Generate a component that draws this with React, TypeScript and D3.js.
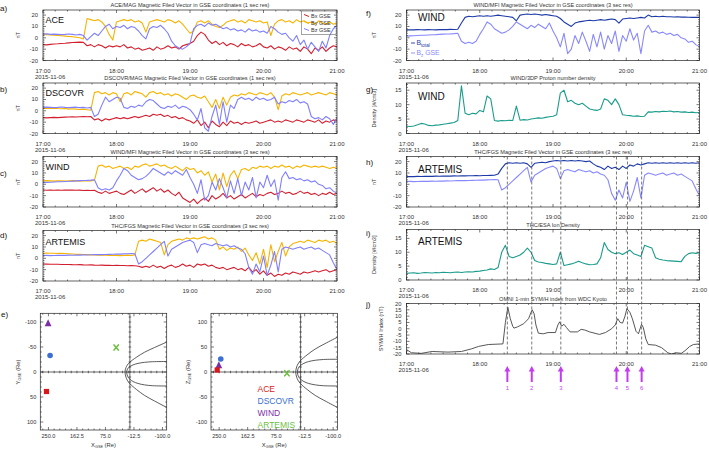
import React from "react";
import * as d3 from "d3";

// ---------- time grid (minutes after 17:00, one value every 3 minutes) ----------
const STEP_MIN = 3;
const SPAN_MIN = 240;
const HOURS = ["17:00", "18:00", "19:00", "20:00", "21:00"];
const DATE_LABEL = "2015-11-06";

// ---------- a) ACE ----------
const aceBx = [-6, -6.2, -5.8, -5.5, -5.3, -5, -4.8, -4.5, -4.2, -4,
  -3.8, -4, -7, -6, -8, -6, -7, -9, -7, -8,
  -7, -8, -6, -9, -8, -10, -9, -11, -10, -9,
  -11, -8, -10, -9, -7, -9, -8, -10, -7, -6,
  -5, -3, 2, 5, 3, -2, -5, -3, -6, -4,
  -7, -5, -6, -8, -5, -7, -6, -8, -7, -5,
  -8, -9, -7, -10, -8, -9, -11, -8, -10, -9,
  -12, -8, -10, -14, -9, -11, -8, -12, -9, -7,
  -8];
const aceBy = [3, 2.8, 2.5, 2.2, 2, 1.8, 1.5, 1.2, 1, 0.5,
  0, -1, 17, 16, 15, 16, 14, 10, 3, -2,
  14, 15, 16, 15, 16, 14, 15, 13, 5, 14,
  15, 16, 15, 14, 16, 15, 13, 15, 12, 8,
  4, 6, 14, 15, 13, 15, 12, 10, 9, 11,
  14, 15, 16, 14, 15, 13, 16, 15, 14, 15,
  13, 14, 2, 12, 15, 16, 14, 15, 13, 16,
  14, 15, 13, 14, 12, 15, 13, 12, 14, 12,
  13];
const aceBz = [3, 3.5, 3, 3.2, 3, 2.8, 3, 3.3, 3, 2.5,
  3, 2, -2, 1, 4, 2, 6, 10, 12, 8,
  10, 9, 11, 8, 10, 9, 6, 2, -1, 8,
  10, 9, 11, 8, 4, -3, -7, -9, -10, -8,
  -5, 8, 11, 12, 10, 13, 11, 12, 10, 8,
  9, 7, 8, 6, 7, 5, 8, 6, 7, 5,
  6, 4, 10, 8, 5, 3, 4, 0, -3, 2,
  -6, -2, -10, -4, -8, -12, -3, -9, 2, 8,
  11];

// ---------- b) DSCOVR ----------
const dscBx = [-6, -6.2, -6, -5.8, -6, -5.8, -5.6, -5.5, -5.3, -5.5,
  -5.2, -5, -5.3, -5, -8, -7, -9, -7, -8, -7,
  -6, -7, -6, -7, -6, -5, -6, -5, -4, -5,
  -3, -4, -3, -5, -4, -6, -5, -7, -6, -8,
  -9, -11, -8, -13, -10, -15, -9, -12, -14, -10,
  -13, -9, -11, -10, -12, -10, -11, -10, -9, -11,
  -10, -9, -8, -10, -9, -10, -8, -9, -10, -8,
  -9, -10, -8, -9, -10, -8, -11, -9, -10, -8,
  -9];
const dscBy = [2, 2.2, 2, 2.3, 2, 1.8, 2, 1.5, 1.8, 1.5,
  1.2, 1.5, 1, 0.5, 16, 17, 15, 16, 14, 16,
  15, 8, 15, 16, 14, 17, 16, 15, 12, 16,
  17, 15, 16, 14, 15, 13, 15, 14, 12, 10,
  13, 14, 12, 11, 13, 8, 3, 10, 2, 12,
  5, 12, 14, 13, 15, 14, 16, 15, 14, 16,
  15, 14, 16, 12, 1, 13, 15, 14, 16, 15,
  14, 15, 16, 14, 15, 16, 15, 14, 16, 15,
  14];
const dscBz = [3, 3.2, 3, 2.8, 3, 3.3, 3, 2.8, 3, 3.2,
  2.8, 3, 2.5, 3, -5, -3, 5, 12, 8, 10,
  12, 11, 3, 2, 4, 3, 5, 4, 8, 10,
  9, 6, 3, 2, 4, 3, 5, 2, 4, 3,
  1, -3, -8, 2, -15, -18, -5, 5, -12, 8,
  -10, 5, 2, 10, 12, 10, 11, 9, 12, 10,
  11, 9, 10, 12, 6, 8, 7, 9, 8, 10,
  7, 8, 6, -5, -7, -6, -8, -5, -7, -12,
  -6];

// ---------- c) / f) WIND ----------
const windBx = [-5, -5.2, -5, -5.3, -5, -5.2, -5, -5.1, -5, -5.3,
  -5.1, -5.4, -5.2, -5.5, -5.3, -7, -8, -6, -8, -7,
  -6, -8, -9, -7, -5, -8, -6, -4, -7, -5,
  -3, -6, -4, -7, -5, -8, -10, -7, -12, -14,
  -16, -13, -17, -14, -12, -15, -10, -13, -11, -8,
  -12, -10, -13, -11, -9, -12, -10, -8, -11, -9,
  -10, -8, -7, -9, -8, -6, -8, -7, -9, -8,
  -6, -8, -7, -9, -8, -10, -8, -9, -7, -9,
  -8];
const windBy = [3, 3.2, 3, 2.8, 3, 3.1, 2.9, 3, 3.2, 3,
  2.8, 3, 3.2, 3, 3.5, 16, 17, 15, 16, 14,
  15, 16, 14, 15, 13, 16, 15, 17, 18, 16,
  17, 18, 16, 17, 15, 14, 16, 14, 12, 15,
  13, 14, 10, 12, 8, 11, 2, 9, -5, 10,
  -2, 8, 12, 5, 13, 14, 12, 15, 14, 16,
  15, 16, 14, 16, 15, 17, 15, 16, 14, 16,
  15, 17, 16, 15, 16, 15, 16, 15, 14, 15,
  14];
const windBz = [1.5, 1.7, 1.8, 2, 2.2, 2.3, 2.5, 2.7, 2.8, 3,
  3.2, 3.4, 3.5, 3.7, 4, -3, -5, -4, -5, -3,
  3, 8, 14, 12, 8, 6, 4, 5, 7, 10,
  14, 12, 10, 8, 11, 9, 12, 10, 8, 13,
  6, 0, -8, 4, -14, -10, 2, -5, 5, -3,
  -12, 3, -8, 5, -10, 2, -5, 6, -12, 2,
  -3, 8, -2, 4, -14, 6, 11, 5, 6, 4,
  5, 3, 4, 2, 3, 0, -1, -4, -3, -6,
  -8];
const windBt = [7, 7.1, 7, 7.2, 7.1, 7, 7.2, 7.1, 7, 7.2,
  7.3, 7.2, 7.4, 7.3, 7.5, 13, 18, 19, 18.5, 19,
  19.5, 19, 19.5, 19, 19.5, 20, 19.5, 19, 18.5, 18,
  15, 20, 20.5, 21, 20.5, 21, 20.5, 20, 20.5, 20,
  19.5, 19, 17, 14, 12, 10, 13, 14, 14.5, 15,
  15.5, 15, 15.5, 16, 15.5, 16, 16.5, 16, 13, 16.5,
  17, 17.5, 17, 17.5, 18, 17.5, 20, 18.5, 19, 18.5,
  19, 18.5, 18.5, 18.3, 18.5, 18.2, 18.3, 18.1, 18, 18.1,
  18];
const windN = [2.5, 2.4, 2.6, 3, 3.5, 3.3, 2.8, 2.7, 2.9, 3,
  3.2, 3.4, 3.6, 3.8, 4.5, 16.5, 7, 6.5, 7, 6.8,
  8, 7.5, 13, 12, 4.5, 4.3, 4.5, 4.4, 4.6, 4.5,
  9.5, 4.6, 4.8, 4.7, 5, 5.2, 5.4, 5.3, 5.6, 5.8,
  6, 6.5, 14, 15, 11, 11.5, 10.5, 10, 10.5, 9.5,
  8.5, 8.2, 8, 8.5, 12, 11.5, 10, 12, 10, 6.5,
  6.3, 6.2, 6, 6.1, 5.9, 6, 7.5, 7.4, 7.6, 7.5,
  7.7, 7.6, 7.8, 7.5, 7.6, 7.4, 7.5, 7.3, 7.4, 7.2,
  7.3];

// ---------- d) / h) / i) ARTEMIS ----------
const artBx = [-5, -5.1, -5.2, -5.3, -5.2, -5.4, -5.5, -5.4, -5.6, -5.7,
  -5.6, -5.8, -5.9, -5.8, -6, -6.1, -6, -6.2, -6.1, -6.3,
  -6.2, -6.4, -6.3, -6.5, -6.4, -6.5, -7, -8, -7, -8,
  -6, -8, -7, -9, -7, -6, -8, -7, -5, -7,
  -6, -8, -5, -6, -5, -7, -6, -8, -9, -8,
  -10, -9, -8, -10, -9, -11, -8, -12, -10, -14,
  -11, -15, -13, -16, -14, -15, -13, -14, -12, -13,
  -14, -12, -13, -12, -11, -12, -11, -10, -12, -11,
  -10];
const artBy = [4.5, 4.6, 4.4, 4.5, 4.3, 4.4, 4.2, 4, 3.8, 3.6,
  3.5, 3.3, 3.2, 3, 2.9, 2.8, 2.7, 2.8, 2.6, 2.5,
  2.6, 2.4, 2.5, 2.8, 2.5, 3, 15, 16, 15, 17,
  16, 15, 14, 3, 12, 15, 16, 17, 16, 18,
  17, 18, 17, 18, 19, 17, 18, 16, 8, 10,
  7, 9, 8, 10, 6, 9, 3, -2, 5, -5,
  8, -8, 12, -3, 6, 14, 2, 10, 13, 14,
  15, 14, 16, 15, 14, 16, 15, 16, 14, 15,
  13];
const artBz = [2.5, 2.6, 2.4, 2.5, 2.6, 2.7, 2.6, 2.8, 2.7, 2.9,
  2.8, 3, 2.9, 3.1, 3.2, 3.3, 3.2, 3.4, 3.5, 3.6,
  3.8, 3.7, 3.9, 4, 4.2, 4, -5, -3, 0, 3,
  6, 9, 12, 15, 2, 8, 10, 12, 14, 15,
  16, 14, 5, 12, 13, 12, 11, 13, 12, 11,
  12, 10, 11, 9, 8, 4, -8, -14, -5, -12,
  2, -15, -6, 6, -12, 8, 10, 9, 8, 9,
  10, 8, 9, 10, 8, 9, 7, 5, 3, -4,
  -10];
const artBt = [6.8, 6.9, 6.8, 7, 6.9, 7, 7.1, 7, 7.2, 7.1,
  7.2, 7.3, 7.2, 7.4, 7.3, 7.5, 7.4, 7.6, 7.5, 7.7,
  7.6, 7.8, 7.7, 7.9, 8, 9, 14, 18, 19, 18.5,
  19, 18.5, 19, 18, 15, 18.5, 19, 19.5, 19, 20,
  20.5, 21, 20.5, 21, 20.5, 21, 20.5, 21, 20.5, 20,
  20.5, 18, 16, 15, 13, 16, 14, 15, 13, 16,
  14, 17, 16, 18, 17, 18, 19, 18.5, 19, 18.5,
  19, 18.5, 19, 18.5, 19, 18.5, 19, 18.5, 19, 18.5,
  19];
const artN = [2.4, 2.5, 2.6, 2.4, 2.5, 2.7, 2.6, 2.5, 2.7, 2.6,
  2.8, 2.7, 2.6, 2.8, 2.9, 2.7, 2.9, 3, 2.9, 3.1,
  3.2, 3.4, 3.6, 4, 3.8, 4.5, 10, 12.5, 8.5, 8,
  8.5, 9, 10, 11.5, 10, 7, 6.5, 6.3, 6, 5.8,
  5.6, 5.8, 10, 5.2, 5.5, 5.8, 6.2, 6.8, 6.2, 5.8,
  5.5, 5.6, 5.8, 8, 13.5, 11, 10, 9.5, 9.8, 9.2,
  10, 10.8, 9.5, 9, 8.5, 12.5, 12, 11.5, 8, 7.5,
  7.2, 7, 6.9, 6.8, 6.7, 6.6, 8.5, 9.5, 9.8, 9.6,
  9.8];

// ---------- j) SYM/H (minute, nT) ----------
const symhT = [0, 4, 12, 21, 34, 45, 53, 59, 67, 79, 81, 83, 85, 87, 88, 91, 96, 100, 102, 103,
  104.5, 106, 108, 112, 116, 122, 124, 125.5, 127, 129, 131, 134, 140, 143, 146, 150, 158, 163, 168, 171,
  173, 175, 177, 179, 180.5, 183, 185, 188, 190, 192.5, 194, 196, 198, 204, 209, 214, 217, 221, 225, 228,
  232, 235, 240];
const symhV = [-16.5, -19, -19.5, -18, -18.5, -18, -16, -14, -12.5, -12, 5, 17, 8, 2, 0.5, 1.5, 4, 8, 13, 15,
  12, 3, -3.5, -4, -3, -3, 3, 5.5, 2, 3.5, 1, -2.5, -2.5, -0.5, -1, -2.5, -4.5, -3, 0, 3,
  8, 5, 4.5, 10, 16, 13, 8, -2, -4, 3.5, 1, -8, -12.5, -13, -15, -19, -20, -19, -19.5, -17.5,
  -14, -12.5, -12];

// ---------- events (minutes after 17:00) ----------
const eventMin = [82.6, 102.6, 126.4, 172, 181, 192.6];
const eventLabels = ["1", "2", "3", "4", "5", "6"];

// ---------- e) spacecraft positions (GSE, Re) ----------
const craftNames = ["ACE", "DSCOVR", "WIND", "ARTEMIS"];
const craftX = [256, 245, 251, 42];
const craftY = [39, -33, -97, -49];
const craftZ = [4, 26, 13, -2.5];
const craftColors = ["#d7191c", "#3b6fd1", "#7a2fa8", "#6cbf3f"];
const craftShapes = ["square", "circle", "triangle", "x"];

// model boundaries (X, half width) in Re
const mpX = [10, 9, 7, 4, 0, -10, -25, -45, -70, -113];
const mpR = [0, 4, 7.5, 10.5, 13, 17, 20.5, 23, 24.5, 25];
const bsX = [15, 14, 12, 8, 0, -20, -45, -75, -113];
const bsR = [0, 5, 9.5, 15, 21.5, 32, 43, 53, 65];

const FONT = "'Liberation Sans', Arial, sans-serif";
const C_BX = "#d21f2e";
const C_BY = "#f6b400";
const C_BZ = "#7f7fff";
const C_BT = "#1d3aa8";
const C_N = "#1a9c8c";
const C_EV = "#c23df0";

type LineSpec = { values: number[]; times?: number[]; color: string; width?: number };

function TimePanel(p: any) {
  const { id, x0, x1, top, h, yDomain, yTicks, yMinor, lines, title, titleX, name, nameX, nameDy, nameSize, letter, letterX, letterY, yLabel, yLabelX } = p;
  const xs = d3.scaleLinear().domain([0, SPAN_MIN]).range([x0, x1]);
  const ys = d3.scaleLinear().domain(yDomain).range([top + h, top]);
  const bottom = top + h;
  const xMinor = d3.range(0, SPAN_MIN + 1, 10);
  const yMin = d3.range(Math.ceil(yDomain[0] / yMinor) * yMinor, yDomain[1] + 1e-6, yMinor);
  const stroke = "#222";
  return (
    <g>
      <defs>
        <clipPath id={id}>
          <rect x={x0} y={top} width={x1 - x0} height={h} />
        </clipPath>
      </defs>
      <g clipPath={`url(#${id})`}>
        {(lines as LineSpec[]).map((l, k) => {
          const gen = d3
            .line<number>()
            .x((_, i) => xs(l.times ? l.times[i] : i * STEP_MIN))
            .y((d) => ys(d));
          return (
            <path key={k} d={gen(l.values) || ""} fill="none" stroke={l.color} strokeWidth={l.width ?? 1.1} strokeLinejoin="round" />
          );
        })}
      </g>
      <rect x={x0} y={top} width={x1 - x0} height={h} fill="none" stroke={stroke} strokeWidth={0.7} />
      {xMinor.map((m) => {
        const len = m % 60 === 0 ? 3 : 1.5;
        const x = xs(m);
        return (
          <g key={"xt" + m} stroke={stroke} strokeWidth={0.6}>
            <line x1={x} x2={x} y1={bottom} y2={bottom - len} />
            <line x1={x} x2={x} y1={top} y2={top + len} />
          </g>
        );
      })}
      {yMin.map((v: number) => {
        const major = (yTicks as number[]).some((t) => Math.abs(t - v) < 1e-6);
        const len = major ? 3 : 1.5;
        const y = ys(v);
        return (
          <g key={"yt" + v} stroke={stroke} strokeWidth={0.6}>
            <line x1={x0} x2={x0 + len} y1={y} y2={y} />
            <line x1={x1} x2={x1 - len} y1={y} y2={y} />
          </g>
        );
      })}
      {(yTicks as number[]).map((v) => (
        <text key={"yl" + v} x={x0 - 5} y={ys(v) + 2} fontSize={5.8} textAnchor="end" fill="#333" fontFamily={FONT}>
          {String(v)}
        </text>
      ))}
      {HOURS.map((lab, k) => (
        <text key={"xl" + k} x={xs(k * 60)} y={bottom + 12} fontSize={6} textAnchor="middle" fill="#333" fontFamily={FONT}>
          {lab}
        </text>
      ))}
      <text x={x0 - 8} y={bottom + 18} fontSize={6} fill="#333" fontFamily={FONT}>
        {DATE_LABEL}
      </text>
      <text x={titleX ?? (x0 + x1) / 2} y={top - 3} fontSize={5.6} textAnchor="middle" fill="#333" fontFamily={FONT}>
        {title}
      </text>
      {name && (
        <text x={nameX} y={top + nameDy} fontSize={nameSize} fill="#111" fontFamily={FONT}>
          {name}
        </text>
      )}
      <text x={letterX} y={letterY} fontSize={8} fill="#111" fontFamily={FONT}>
        {letter}
      </text>
      <text transform={`translate(${yLabelX},${top + h / 2}) rotate(-90)`} fontSize={5.6} textAnchor="middle" fill="#333" fontFamily={FONT}>
        {yLabel}
      </text>
      {p.children}
    </g>
  );
}

function Marker({ shape, cx, cy, color }: any) {
  if (shape === "square") return <rect x={cx - 2.6} y={cy - 2.6} width={5.2} height={5.2} fill={color} />;
  if (shape === "circle") return <circle cx={cx} cy={cy} r={2.8} fill={color} />;
  if (shape === "triangle")
    return <polygon points={`${cx},${cy - 4.2} ${cx - 3.4},${cy + 2.8} ${cx + 3.4},${cy + 2.8}`} fill={color} />;
  return (
    <g stroke={color} strokeWidth={1.5} strokeLinecap="round">
      <line x1={cx - 2.2} x2={cx + 2.2} y1={cy - 2.6} y2={cy + 2.6} />
      <line x1={cx + 2.2} x2={cx - 2.2} y1={cy - 2.6} y2={cy + 2.6} />
    </g>
  );
}

function OrbitPlot({ id, left, axis, factors, yLabelX, showLegend }: any) {
  const w = 126.4;
  const top = 313.3;
  const h = 116.7;
  const bottom = top + h;
  const xs = d3.scaleLinear().domain([275, -113]).range([left, left + w]);
  const ys =
    axis === "Y"
      ? d3.scaleLinear().domain([-117.4, 116]).range([top, bottom])
      : d3.scaleLinear().domain([117.4, -116]).range([top, bottom]);
  const coords = axis === "Y" ? craftY : craftZ;
  const stroke = "#222";
  const xMajor = [250, 162.5, 75, -12.5, -100];
  const xMinor = d3.range(0, 23).map((k) => 267.5 - k * 17.5).filter((v) => v <= 275 && v >= -113);
  const yMajor = [-100, -50, 0, 50, 100];
  const yMinor = d3.range(-110, 111, 10);
  const sideSign = axis === "Y" ? -1 : 1; // screen-upper side sign
  const curve = (xsArr: number[], rArr: number[], fu: number, fl: number) => {
    const pts: [number, number][] = [];
    for (let i = xsArr.length - 1; i >= 0; i--) pts.push([xs(xsArr[i]), ys(sideSign * rArr[i] * fu)]);
    for (let i = 1; i < xsArr.length; i++) pts.push([xs(xsArr[i]), ys(-sideSign * rArr[i] * fl)]);
    return d3.line().curve(d3.curveCatmullRom)(pts) || "";
  };
  const isMajorX = (v: number) => xMajor.some((m) => Math.abs(m - v) < 1e-6);
  return (
    <g>
      <defs>
        <clipPath id={id}>
          <rect x={left} y={top} width={w} height={h} />
        </clipPath>
      </defs>
      <rect x={left} y={top} width={w} height={h} fill="none" stroke={stroke} strokeWidth={0.7} />
      <g clipPath={`url(#${id})`} fill="none" stroke="#333" strokeWidth={0.8}>
        <path d={curve(mpX, mpR, factors[0], factors[1])} />
        <path d={curve(bsX, bsR, factors[2], factors[3])} />
        <line x1={left} x2={left + w} y1={ys(0)} y2={ys(0)} stroke="#222" strokeWidth={0.7} />
        <line x1={xs(0)} x2={xs(0)} y1={top} y2={bottom} stroke="#222" strokeWidth={0.7} />
      </g>
      {xMinor.map((v) => {
        const len = isMajorX(v) ? 3 : 1.5;
        const x = xs(v);
        return (
          <g key={"ox" + v} stroke={stroke} strokeWidth={0.6}>
            <line x1={x} x2={x} y1={bottom} y2={bottom - len} />
            <line x1={x} x2={x} y1={top} y2={top + len} />
            <line x1={x} x2={x} y1={ys(0) - 1.3} y2={ys(0) + 1.3} />
          </g>
        );
      })}
      {yMinor.map((v) => {
        const len = v % 50 === 0 ? 3 : 1.5;
        const y = ys(v);
        return (
          <g key={"oy" + v} stroke={stroke} strokeWidth={0.6}>
            <line x1={left} x2={left + len} y1={y} y2={y} />
            <line x1={left + w} x2={left + w - len} y1={y} y2={y} />
            <line x1={xs(0) - 1.3} x2={xs(0) + 1.3} y1={y} y2={y} />
          </g>
        );
      })}
      {xMajor.map((v) => (
        <text key={"oxl" + v} x={xs(v)} y={438} fontSize={5.6} textAnchor="middle" fill="#333" fontFamily={FONT}>
          {v.toFixed(1)}
        </text>
      ))}
      {yMajor.map((v) => (
        <text key={"oyl" + v} x={left - 4} y={ys(v) + 2} fontSize={5.6} textAnchor="end" fill="#333" fontFamily={FONT}>
          {String(v)}
        </text>
      ))}
      <text x={left + w / 2} y={447} fontSize={5.8} textAnchor="middle" fill="#333" fontFamily={FONT}>
        X<tspan fontSize={3.8} dy={1.3}>GSE</tspan>
        <tspan dy={-1.3}> (Re)</tspan>
      </text>
      <text transform={`translate(${yLabelX},${ys(0)}) rotate(-90)`} fontSize={5.8} textAnchor="middle" fill="#333" fontFamily={FONT}>
        {axis}
        <tspan fontSize={3.8} dy={1.3}>GSE</tspan>
        <tspan dy={-1.3}> (Re)</tspan>
      </text>
      {[2, 1, 0, 3].map((k) => (
        <Marker key={"m" + k} shape={craftShapes[k]} cx={xs(craftX[k])} cy={ys(coords[k])} color={craftColors[k]} />
      ))}
      {showLegend &&
        craftNames.map((n, k) => (
          <text key={"lg" + n} x={257.5} y={392 + k * 12} fontSize={8.5} fill={craftColors[k]} fontFamily={FONT}>
            {n}
          </text>
        ))}
    </g>
  );
}

export default function App() {
  const LX0 = 43;
  const LX1 = 337;
  const RX0 = 406.5;
  const RX1 = 699.5;
  const PH = 50.5;
  const bDomain = [-20, 24.5];
  const bTicks = [-20, -10, 0, 10, 20];
  const xsR = d3.scaleLinear().domain([0, SPAN_MIN]).range([RX0, RX1]);
  const ghost = "#555";
  return (
    <svg width={709} height={449} style={{ position: "absolute", left: 0, top: 0, background: "#fff" }} fontFamily={FONT}>
      <rect x={0} y={0} width={709} height={449} fill="#fff" />
      {/* a) ACE */}
      <TimePanel id="ca" x0={LX0} x1={LX1} top={10} h={PH} yDomain={bDomain} yTicks={bTicks} yMinor={2}
        lines={[{ values: aceBx, color: C_BX }, { values: aceBy, color: C_BY }, { values: aceBz, color: C_BZ }]}
        title="ACE/MAG Magnetic Filed Vector in GSE coordinates (1 sec res)" name="ACE" nameX={45.5} nameDy={13}
        nameSize={9} letter="a)" letterX={0} letterY={10.5} yLabel="nT" yLabelX={20}>
        <rect x={301.5} y={11} width={35} height={23.5} fill="none" stroke="#666" strokeWidth={0.6} />
        {[["Bx GSE", C_BX], ["By GSE", C_BY], ["Bz GSE", C_BZ]].map(([t, c], k) => (
          <g key={t}>
            <line x1={304} x2={309} y1={14.5 + k * 7} y2={16.5 + k * 7} stroke={c} strokeWidth={1} />
            <text x={311} y={17.5 + k * 7} fontSize={5.5} fill="#333" fontFamily={FONT}>{t}</text>
          </g>
        ))}
      </TimePanel>
      {/* b) DSCOVR */}
      <TimePanel id="cb" x0={LX0} x1={LX1} top={83} h={PH} yDomain={bDomain} yTicks={bTicks} yMinor={2}
        lines={[{ values: dscBx, color: C_BX }, { values: dscBy, color: C_BY }, { values: dscBz, color: C_BZ }]}
        title="DSCOVR/MAG Magnetic Filed Vector in GSE coordinates (1 sec res)" name="DSCOVR" nameX={45.5} nameDy={13}
        nameSize={9} letter="b)" letterX={0} letterY={92} yLabel="nT" yLabelX={20} />
      {/* c) WIND */}
      <TimePanel id="cc" x0={LX0} x1={LX1} top={156.5} h={PH} yDomain={bDomain} yTicks={bTicks} yMinor={2}
        lines={[{ values: windBx, color: C_BX }, { values: windBy, color: C_BY }, { values: windBz, color: C_BZ }]}
        title="WIND/MFI Magnetic Filed Vector in GSE coordinates (3 sec res)" name="WIND" nameX={45.5} nameDy={13.5}
        nameSize={9} letter="c)" letterX={0} letterY={176} yLabel="nT" yLabelX={20} />
      {/* d) ARTEMIS */}
      <TimePanel id="cd" x0={LX0} x1={LX1} top={230.5} h={PH} yDomain={bDomain} yTicks={bTicks} yMinor={2}
        lines={[{ values: artBx, color: C_BX }, { values: artBy, color: C_BY }, { values: artBz, color: C_BZ }]}
        title="THC/FGS Magnetic Filed Vector in GSE coordinates (3 sec res)" name="ARTEMIS" nameX={45.5} nameDy={14.5}
        nameSize={9} letter="d)" letterX={0} letterY={238} yLabel="nT" yLabelX={20} />

      {/* e) positions */}
      <text x={1} y={317} fontSize={8} fill="#111" fontFamily={FONT}>e)</text>
      <OrbitPlot id="oe1" left={40.3} axis="Y" factors={[0.84, 1.12, 0.92, 1.09]} yLabelX={20} />
      <OrbitPlot id="oe2" left={211} axis="Z" factors={[1.02, 1.12, 1.07, 1.09]} yLabelX={190} showLegend />

      {/* f) WIND |B| and Bz */}
      <TimePanel id="cf" x0={RX0} x1={RX1} top={10} h={PH} yDomain={bDomain} yTicks={bTicks} yMinor={2}
        lines={[{ values: windBz, color: "#8888ff" }, { values: windBt, color: C_BT }]}
        title="WIND/MFI Magnetic Filed Vector in GSE coordinates (3 sec res)" name="WIND" nameX={418} nameDy={10.7}
        nameSize={10} letter="f)" letterX={366} letterY={16} yLabel="nT" yLabelX={376}>
        <line x1={411} x2={415} y1={43} y2={43} stroke={C_BT} strokeWidth={0.9} />
        <text x={416.5} y={45} fontSize={6.8} fill={C_BT} fontFamily={FONT}>
          B<tspan fontSize={4.6} dy={1.5}>total</tspan>
        </text>
        <line x1={411} x2={415} y1={53} y2={53} stroke="#8888ff" strokeWidth={0.9} />
        <text x={416.5} y={55} fontSize={6.8} fill="#8888ff" fontFamily={FONT}>
          B<tspan fontSize={4.6} dy={1.5}>z</tspan>
          <tspan dy={-1.5}> GSE</tspan>
        </text>
      </TimePanel>
      {/* g) WIND density */}
      <TimePanel id="cg" x0={RX0} x1={RX1} top={83} h={PH} yDomain={[0, 17.5]} yTicks={[0, 5, 10, 15]} yMinor={1}
        lines={[{ values: windN, color: C_N }]}
        title="WIND/3DP  Proton number density" name="WIND" nameX={418} nameDy={17}
        nameSize={10} letter="g)" letterX={366} letterY={92} yLabel="Density [#/cm3]" yLabelX={376} />
      {/* h) ARTEMIS |B| and Bz */}
      <TimePanel id="ch" x0={RX0} x1={RX1} top={156.5} h={PH} yDomain={bDomain} yTicks={bTicks} yMinor={2}
        lines={[{ values: artBz, color: "#8888ff" }, { values: artBt, color: C_BT }]}
        title="THC/FGS Magnetic Filed Vector in GSE coordinates (3 sec res)" name="ARTEMIS" nameX={418} nameDy={16}
        nameSize={10} letter="h)" letterX={366} letterY={165} yLabel="nT" yLabelX={376} />
      {/* i) ARTEMIS density */}
      <TimePanel id="ci" x0={RX0} x1={RX1} top={229.5} h={PH} yDomain={[0, 18.2]} yTicks={[0, 5, 10, 15]} yMinor={1}
        lines={[{ values: artN, color: C_N }]}
        title="THC/ESA Ion Density" name="ARTEMIS" nameX={418} nameDy={15.5}
        nameSize={10} letter="i)" letterX={366} letterY={236} yLabel="Density [#/cm3]" yLabelX={376} />
      {/* j) SYM/H */}
      <TimePanel id="cj" x0={RX0} x1={RX1} top={303.5} h={PH} yDomain={[-20, 20]}
        yTicks={[-20, -15, -10, -5, 0, 5, 10, 15, 20]} yMinor={2.5}
        lines={[{ values: symhV, times: symhT, color: "#444", width: 0.9 }]}
        title="OMNI 1-min SYM/H index from WDC Kyoto" letter="j)" letterX={366} letterY={307}
        yLabel="SYM/H Index (nT)" yLabelX={383} />

      {/* dashed event lines */}
      {eventMin.map((m, k) => (
        <line key={"ev" + k} x1={xsR(m)} x2={xsR(m)} y1={156.5} y2={354} stroke={ghost} strokeWidth={0.8} strokeDasharray="3,2" />
      ))}
      {/* arrows */}
      {eventMin.map((m, k) => {
        const x = xsR(m);
        return (
          <g key={"ar" + k}>
            <line x1={x} x2={x} y1={382} y2={370} stroke={C_EV} strokeWidth={2} />
            <polygon points={`${x},${366} ${x - 3},${371.5} ${x + 3},${371.5}`} fill={C_EV} />
            <text x={x} y={390} fontSize={6} textAnchor="middle" fill={C_EV} fontFamily={FONT}>
              {eventLabels[k]}
            </text>
          </g>
        );
      })}
    </svg>
  );
}
